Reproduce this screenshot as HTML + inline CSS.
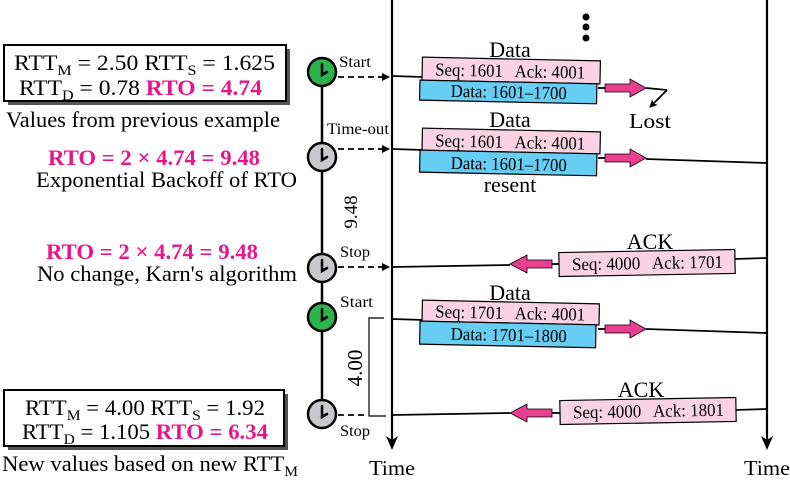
<!DOCTYPE html>
<html><head><meta charset="utf-8"><style>
html,body{margin:0;padding:0;background:#fff;}
svg{display:block;font-family:"Liberation Serif",serif;}
</style></head><body>
<svg width="790" height="484" viewBox="0 0 790 484" xmlns="http://www.w3.org/2000/svg">
<defs>
<marker id="ah" markerWidth="8" markerHeight="8" refX="7" refY="4" orient="auto" markerUnits="userSpaceOnUse"><path d="M0,0 L8,4 L0,8 L2,4 Z" fill="#000"/></marker>
</defs>
<line x1="392" y1="0" x2="392" y2="440" stroke="#000" stroke-width="2.2"/>
<path d="M386,436 L392,450 L398,436 L392,440 Z" fill="#000"/>
<line x1="767" y1="0" x2="767" y2="440" stroke="#000" stroke-width="2.2"/>
<path d="M761,436 L767,450 L773,436 L767,440 Z" fill="#000"/>
<text x="369" y="475" font-size="21" textLength="46" lengthAdjust="spacingAndGlyphs">Time</text>
<text x="744" y="475" font-size="21" textLength="46" lengthAdjust="spacingAndGlyphs">Time</text>
<circle cx="586" cy="17" r="3.5"/><circle cx="586" cy="27" r="3.5"/><circle cx="586" cy="38" r="3.5"/>

<line x1="322" y1="72" x2="322" y2="414" stroke="#000" stroke-width="2.5"/>
<g stroke="#000" stroke-width="2.5">
<circle cx="322" cy="72" r="14" fill="#2eb34c"/>
<circle cx="322" cy="157" r="14" fill="#c9c9cd"/>
<circle cx="322" cy="268" r="14" fill="#c9c9cd"/>
<circle cx="322" cy="317" r="14" fill="#2eb34c"/>
<circle cx="322" cy="414" r="14" fill="#c9c9cd"/>
</g>
<g stroke="#000" stroke-width="2.5" fill="none" stroke-linecap="round">
<path d="M322,64 L322,75 L327,72"/>
<path d="M322,149 L322,160 L327,157"/>
<path d="M322,260 L322,271 L327,268"/>
<path d="M322,309 L322,320 L327,317"/>
<path d="M322,406 L322,417 L327,414"/>
</g>
<g stroke="#000" stroke-width="1.8" stroke-dasharray="6,4">
<line x1="338" y1="77" x2="384" y2="77"/>
<line x1="338" y1="149" x2="384" y2="149"/>
<line x1="338" y1="267" x2="384" y2="267"/>
<line x1="338" y1="415" x2="364" y2="415"/>
</g>
<path d="M382,73 L390,77 L382,81 Z"/>
<path d="M382,145 L390,149 L382,153 Z"/>
<path d="M382,263 L390,267 L382,271 Z"/>
<g font-size="16">
<text x="339" y="67" textLength="32" lengthAdjust="spacingAndGlyphs">Start</text>
<text x="327" y="134" textLength="62" lengthAdjust="spacingAndGlyphs">Time-out</text>
<text x="340" y="257" textLength="30" lengthAdjust="spacingAndGlyphs">Stop</text>
<text x="340" y="307" textLength="33" lengthAdjust="spacingAndGlyphs">Start</text>
<text x="340" y="436" textLength="30" lengthAdjust="spacingAndGlyphs">Stop</text>
</g>
<text transform="translate(357,212) rotate(-90)" font-size="19" text-anchor="middle">9.48</text>
<path d="M384,318 L369,318 L369,416 L386,416" fill="none" stroke="#000" stroke-width="1.2"/>
<text transform="translate(362,368) rotate(-90)" font-size="21" text-anchor="middle">4.00</text>

<g stroke="#000" stroke-width="1.8" fill="none">
<line x1="392" y1="76" x2="424" y2="77"/>
<line x1="598" y1="88" x2="606" y2="88"/>
<polyline points="646,88 667,90"/>
<line x1="667" y1="90" x2="650" y2="107" marker-end="url(#ah)"/>
<line x1="392" y1="149" x2="424" y2="150"/>
<line x1="598" y1="158" x2="606" y2="158"/>
<line x1="646" y1="159" x2="767" y2="163"/>
<line x1="767" y1="258" x2="734" y2="259"/>
<line x1="560" y1="264" x2="552" y2="264"/>
<line x1="510" y1="265" x2="392" y2="267"/>
<line x1="392" y1="319" x2="424" y2="320"/>
<line x1="598" y1="329" x2="606" y2="329"/>
<line x1="646" y1="329" x2="767" y2="333"/>
<line x1="767" y1="409" x2="734" y2="410"/>
<line x1="560" y1="413" x2="552" y2="413"/>
<line x1="510" y1="413" x2="392" y2="415"/>
</g>
<text x="629" y="128" font-size="21" textLength="42" lengthAdjust="spacingAndGlyphs">Lost</text>

<g fill="#e8408f" stroke="#000" stroke-width="0.8">
<path d="M605,84 L630,84 L630,79 L646,88 L630,97 L630,92 L605,92 Z"/>
<path d="M605,154 L630,154 L630,149 L646,158 L630,167 L630,162 L605,162 Z"/>
<path d="M552,260 L527,260 L527,255 L510,264 L527,273 L527,268 L552,268 Z"/>
<path d="M605,325 L630,325 L630,320 L646,329 L630,338 L630,333 L605,333 Z"/>
<path d="M552,409 L527,409 L527,404 L510,413 L527,422 L527,417 L552,417 Z"/>
</g>

<g font-size="18" stroke="#000" stroke-width="1.2">
<g transform="rotate(1.2 510 80)">
<rect x="422" y="59" width="178" height="23" fill="#f9d3e4"/>
<rect x="420" y="82" width="177" height="20" fill="#66cdf3"/>
<text x="435" y="77" stroke="none" textLength="150" lengthAdjust="spacingAndGlyphs" xml:space="preserve">Seq: 1601   Ack: 4001</text>
<text x="451" y="98" stroke="none" textLength="116" lengthAdjust="spacingAndGlyphs">Data: 1601–1700</text>
</g>
<g transform="rotate(1.2 510 151)">
<rect x="422" y="130" width="178" height="22" fill="#f9d3e4"/>
<rect x="420" y="152" width="177" height="22" fill="#66cdf3"/>
<text x="435" y="148" stroke="none" textLength="150" lengthAdjust="spacingAndGlyphs" xml:space="preserve">Seq: 1601   Ack: 4001</text>
<text x="451" y="170" stroke="none" textLength="116" lengthAdjust="spacingAndGlyphs">Data: 1601–1700</text>
</g>
<g transform="rotate(-1 647 263)">
<rect x="559" y="251" width="176" height="24" fill="#f9d3e4"/>
<text x="572" y="269" stroke="none" textLength="151" lengthAdjust="spacingAndGlyphs" xml:space="preserve">Seq: 4000   Ack: 1701</text>
</g>
<g transform="rotate(1.2 510 324)">
<rect x="422" y="302" width="177" height="21" fill="#f9d3e4"/>
<rect x="420" y="323" width="176" height="23" fill="#66cdf3"/>
<text x="435" y="319" stroke="none" textLength="150" lengthAdjust="spacingAndGlyphs" xml:space="preserve">Seq: 1701   Ack: 4001</text>
<text x="451" y="341" stroke="none" textLength="116" lengthAdjust="spacingAndGlyphs">Data: 1701–1800</text>
</g>
<g transform="rotate(-1 648 411)">
<rect x="560" y="399" width="176" height="24" fill="#f9d3e4"/>
<text x="573" y="417" stroke="none" textLength="151" lengthAdjust="spacingAndGlyphs" xml:space="preserve">Seq: 4000   Ack: 1801</text>
</g>
</g>
<g font-size="22" text-anchor="middle">
<text x="510" y="57">Data</text>
<text x="510" y="127">Data</text>
<text x="510" y="192">resent</text>
<text x="650" y="249">ACK</text>
<text x="510" y="300">Data</text>
<text x="641" y="397">ACK</text>
</g>

<rect x="8" y="49" width="282" height="56" fill="#555"/>
<rect x="4" y="45" width="282" height="56" fill="#fff" stroke="#000" stroke-width="2"/>
<text x="14" y="70" font-size="22" textLength="261" lengthAdjust="spacingAndGlyphs">RTT<tspan font-size="15" dy="5">M</tspan><tspan dy="-5"> = 2.50  RTT</tspan><tspan font-size="15" dy="5">S</tspan><tspan dy="-5"> = 1.625</tspan></text>
<text x="19" y="95" font-size="22" textLength="243" lengthAdjust="spacingAndGlyphs">RTT<tspan font-size="15" dy="5">D</tspan><tspan dy="-5"> = 0.78  </tspan><tspan fill="#e6168a" font-weight="bold">RTO = 4.74</tspan></text>
<text x="6" y="127" font-size="22" textLength="274" lengthAdjust="spacingAndGlyphs">Values from previous example</text>
<text x="48" y="165" font-size="22" fill="#e6168a" font-weight="bold" textLength="212" lengthAdjust="spacingAndGlyphs">RTO = 2 × 4.74 = 9.48</text>
<text x="36" y="187" font-size="22" textLength="261" lengthAdjust="spacingAndGlyphs">Exponential Backoff of RTO</text>
<text x="46" y="259" font-size="22" fill="#e6168a" font-weight="bold" textLength="212" lengthAdjust="spacingAndGlyphs">RTO = 2 × 4.74 = 9.48</text>
<text x="37" y="281" font-size="22" textLength="260" lengthAdjust="spacingAndGlyphs">No change, Karn's algorithm</text>
<rect x="8" y="394" width="280" height="56" fill="#555"/>
<rect x="4" y="390" width="280" height="56" fill="#fff" stroke="#000" stroke-width="2"/>
<text x="25" y="415" font-size="22" textLength="240" lengthAdjust="spacingAndGlyphs">RTT<tspan font-size="15" dy="5">M</tspan><tspan dy="-5"> = 4.00 RTT</tspan><tspan font-size="15" dy="5">S</tspan><tspan dy="-5"> = 1.92</tspan></text>
<text x="22" y="439" font-size="22" textLength="246" lengthAdjust="spacingAndGlyphs">RTT<tspan font-size="15" dy="5">D</tspan><tspan dy="-5"> = 1.105 </tspan><tspan fill="#e6168a" font-weight="bold">RTO = 6.34</tspan></text>
<text x="2" y="471" font-size="22" textLength="296" lengthAdjust="spacingAndGlyphs">New values based on new RTT<tspan font-size="15" dy="5">M</tspan></text>
</svg>
</body></html>
